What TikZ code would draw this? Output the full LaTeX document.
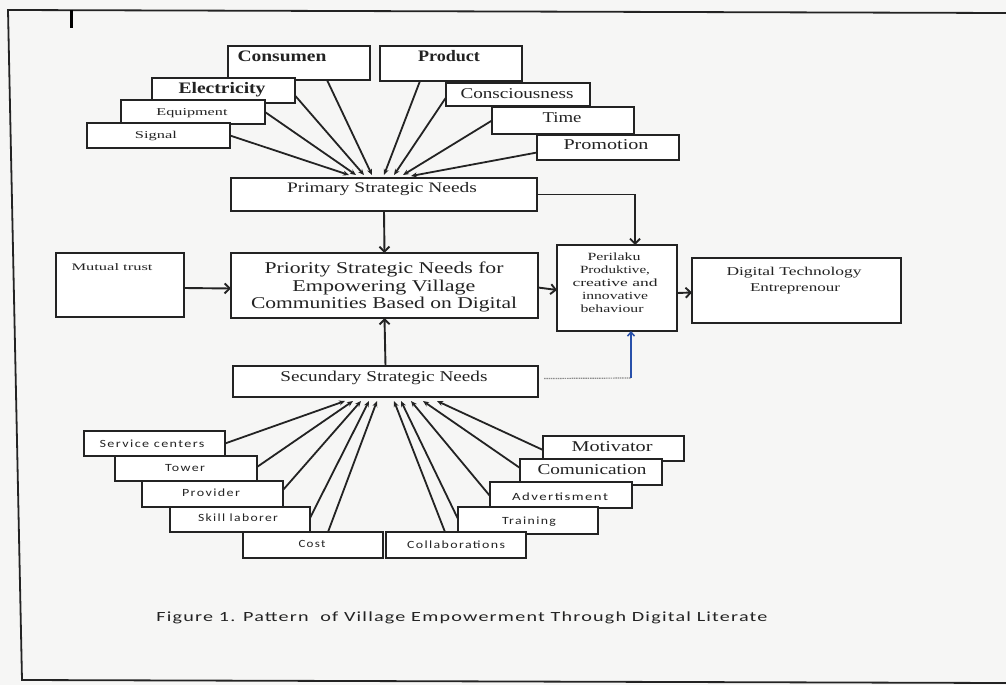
\documentclass[tikz,border=0pt]{standalone}
\usepackage{fontspec}
\usepackage{graphicx}
\setmainfont{Liberation Serif}
\newfontfamily\capfont[LetterSpace=6]{Carlito}
\newfontfamily\lowfont[LetterSpace=10]{Carlito}
\usetikzlibrary{arrows.meta,calc}
\definecolor{bgc}{RGB}{246,246,245}
\definecolor{ink}{RGB}{35,35,35}
\definecolor{blueln}{RGB}{40,80,170}
\newcommand{\sx}[2]{\resizebox{#1pt}{\height}{#2}}
\newcommand{\bx}[5]{\node[box, minimum width={#4pt-#2pt}, minimum height={#5pt-#3pt}] (#1) at ({(#2+#4)/2},{(#3+#5)/2}) {};}
\newcommand{\fs}[1]{\fontsize{#1}{#1}\selectfont}
\begin{document}
\begin{tikzpicture}[x=1pt,y=-1pt,
  box/.style={draw=ink, line width=1.9pt, fill=white, inner sep=0pt, outer sep=0pt},
  txt/.style={inner sep=0pt, outer sep=0pt, text height=0.8em, text depth=0.08em, text=ink},
  spoke/.style={draw=ink, line width=1.8pt, -{Stealth[length=6pt,width=5pt]}},
  arr/.style={draw=ink, line width=1.9pt, -{Straight Barb[length=5pt,width=10pt]}},
  frame/.style={draw=ink, line width=1.8pt}]
\useasboundingbox (0,0) rectangle (1006,685);
\fill[bgc] (0,0) rectangle (1006,685);
% page frame
\coordinate (fa) at (8,10);
\coordinate (fb) at (1006,13);
\coordinate (fc) at (22,680);
\coordinate (fd) at (1006,683);
\draw[frame] (fb) -- (fa) -- (fc) -- (fd);
\coordinate (tka) at (71,10);
\coordinate (tkb) at (71,28);
\draw[draw=black, line width=3pt] (tka) -- (tkb);

% ---------- spoke tips ----------
\coordinate (p1) at (349,175);
\coordinate (p2) at (356,175);
\coordinate (p3) at (364,175);
\coordinate (p4) at (372,175);
\coordinate (p5) at (384,175);
\coordinate (p6) at (394,175);
\coordinate (p7) at (403,175);
\coordinate (p8) at (411,176);
\coordinate (q1) at (345,401);
\coordinate (q2) at (353,401);
\coordinate (q3) at (361,401);
\coordinate (q4) at (369,401);
\coordinate (q5) at (377,401);
\coordinate (q6) at (394,401);
\coordinate (q7) at (401,401);
\coordinate (q8) at (411,401);
\coordinate (q9) at (423,401);
\coordinate (q10) at (437,401);

% ---------- boxes (top group) ----------
\bx{cons}{228}{46}{370}{80}
\bx{prod}{380}{46}{522}{81}
\bx{elec}{152}{78}{295}{103}
\bx{equip}{121}{100}{265}{124}
\bx{sig}{87}{123}{230}{148}
\bx{consc}{446}{83}{590}{106}
\bx{time}{492}{107}{634}{134}
\bx{promo}{537}{135}{679}{160}
% ---------- central ----------
\bx{prim}{231}{178}{537}{211}
\bx{prio}{231}{253}{538}{318}
\bx{mutual}{56}{253}{184}{317}
\bx{peri}{557}{245}{677}{331}
\bx{dig}{692}{258}{901}{323}
\bx{sec}{233}{366}{538}{397}
% ---------- bottom group ----------
\bx{motiv}{543}{436}{684}{461}
\bx{comm}{520}{459}{662}{485}
\bx{adv}{490}{482}{632}{508}
\bx{train}{458}{507}{598}{534}
\bx{sc}{84}{431}{225}{456}
\bx{tower}{115}{456}{257}{481}
\bx{prov}{142}{481}{283}{507}
\bx{skill}{170}{507}{310}{532}
\bx{cost}{243}{532}{383}{558}
\bx{coll}{386}{532}{526}{558}

% ---------- texts ----------
\node[txt, font=\fs{16}\bfseries] (cons-t) at (282,58) {\sx{89}{Consumen}};
\node[txt, font=\fs{16}\bfseries] (prod-t) at (449,58) {\sx{62}{Product}};
\node[txt, font=\fs{16}\bfseries] (elec-t) at (222,90) {\sx{87}{Electricity}};
\node[txt, font=\fs{10.5}] (equip-t) at (192,112) {\sx{71}{Equipment}};
\node[txt, font=\fs{10.5}] (sig-t) at (156,135) {\sx{42}{Signal}};
\node[txt, font=\fs{15}] (consc-t) at (517,95) {\sx{113}{Consciousness}};
\node[txt, font=\fs{15}] (time-t) at (562,119) {\sx{39}{Time}};
\node[txt, font=\fs{15}] (promo-t) at (606,146) {\sx{85}{Promotion}};
\node[txt, font=\fs{14.5}] (prim-t) at (382,189) {\sx{190}{Primary Strategic Needs}};
\node[txt, font=\fs{16.5}] (prio-t1) at (384,270) {\sx{239}{Priority Strategic Needs for}};
\node[txt, font=\fs{16.5}] (prio-t2) at (384,288) {\sx{183}{Empowering Village}};
\node[txt, font=\fs{16.5}] (prio-t3) at (384,305) {\sx{266}{Communities Based on Digital}};
\node[txt, font=\fs{10}] (mutual-t) at (112,267) {\sx{81}{Mutual trust}};
\node[txt, font=\fs{11}] (peri-t1) at (614,257) {\sx{53}{Perilaku}};
\node[txt, font=\fs{11}] (peri-t2) at (615,270) {\sx{70}{Produktive,}};
\node[txt, font=\fs{11}] (peri-t3) at (615,283) {\sx{85}{creative and}};
\node[txt, font=\fs{11}] (peri-t4) at (615,296) {\sx{66}{innovative}};
\node[txt, font=\fs{11}] (peri-t5) at (612,309) {\sx{63}{behaviour}};
\node[txt, font=\fs{12}] (dig-t1) at (794,272) {\sx{135}{Digital Technology}};
\node[txt, font=\fs{12}] (dig-t2) at (795,288) {\sx{90}{Entreprenour}};
\node[txt, font=\fs{15}] (sec-t) at (384,378) {\sx{207}{Secundary Strategic Needs}};
\node[txt, font=\fs{15}] (motiv-t) at (612,448) {\sx{81}{Motivator}};
\node[txt, font=\fs{15}] (comm-t) at (592,471) {\sx{109}{Comunication}};
\node[txt, font=\lowfont\fs{11}] (adv-t) at (560,497) {\sx{96}{Advertisment}};
\node[txt, font=\lowfont\fs{11}] (train-t) at (529,521) {\sx{54}{Training}};
\node[txt, font=\lowfont\fs{11}] (coll-t) at (456,545) {\sx{98}{Collaborations}};
\node[txt, font=\lowfont\fs{11}] (sc-t) at (152,444) {\sx{105}{Service centers}};
\node[txt, font=\lowfont\fs{11}] (tower-t) at (185,468) {\sx{40}{Tower}};
\node[txt, font=\lowfont\fs{11}] (prov-t) at (211,493) {\sx{58}{Provider}};
\node[txt, font=\lowfont\fs{11}] (skill-t) at (238,518) {\sx{80}{Skill laborer}};
\node[txt, font=\lowfont\fs{11}] (cost-t) at (312,544) {\sx{27}{Cost}};
\node[txt, font=\capfont\fs{14}] (cap) at (462,618) {\sx{611}{Figure 1. Pattern\ \ of Village Empowerment Through Digital Literate}};

% ---------- top spokes ----------
\draw[spoke] (sig.east) -- (p1);
\draw[spoke] (equip.east) -- (p2);
\draw[spoke] ($(elec.east)+(0,5)$) -- (p3);
\draw[spoke] ($(cons.south)+(28,0)$) -- (p4);
\draw[spoke] ($(prod.south)+(-31,0)$) -- (p5);
\draw[spoke] ($(consc.west)+(0,3)$) -- (p6);
\draw[spoke] (time.west) -- (p7);
\draw[spoke] ($(promo.west)+(0,5)$) -- (p8);
% ---------- bottom spokes ----------
\draw[spoke] (sc.east) -- (q1);
\draw[spoke] ($(tower.north east)+(0,11)$) -- (q2);
\draw[spoke] ($(prov.north east)+(0,9)$) -- (q3);
\draw[spoke] ($(skill.north east)+(0,11)$) -- (q4);
\draw[spoke] ($(cost.north)+(15,0)$) -- (q5);
\draw[spoke] ($(coll.north)+(-11,0)$) -- (q6);
\draw[spoke] ($(train.north west)+(0,12)$) -- (q7);
\draw[spoke] ($(adv.north west)+(0,14)$) -- (q8);
\draw[spoke] ($(comm.north west)+(0,9)$) -- (q9);
\draw[spoke] ($(motiv.north west)+(0,14)$) -- (q10);

% ---------- main arrows ----------
\draw[arr] (prim.south) -- (prio.north);
\draw[arr] (sec.north) -- (prio.south);
\draw[arr] ($(mutual.east)+(0,3)$) -- ($(prio.west)+(0,3)$);
\draw[arr] ($(prio.east)+(0,2)$) -- ($(peri.west)+(0,2)$);
\draw[arr] ($(peri.east)+(0,5)$) -- ($(dig.west)+(0,2)$);
\draw[arr] (prim.east) -| ($(peri.north)+(18,0)$);
\coordinate (sbend) at ($(peri.south)+(14,47)$);
\draw[draw=black!45, line width=1.2pt, dash pattern=on 1.5pt off 0.8pt] ($(sec.east)+(6,-3)$) -- (sbend);
\draw[draw=blueln, line width=1.5pt, -{Straight Barb[length=4pt,width=7pt]}] (sbend) -- ($(peri.south)+(14,0)$);
\end{tikzpicture}
\end{document}
